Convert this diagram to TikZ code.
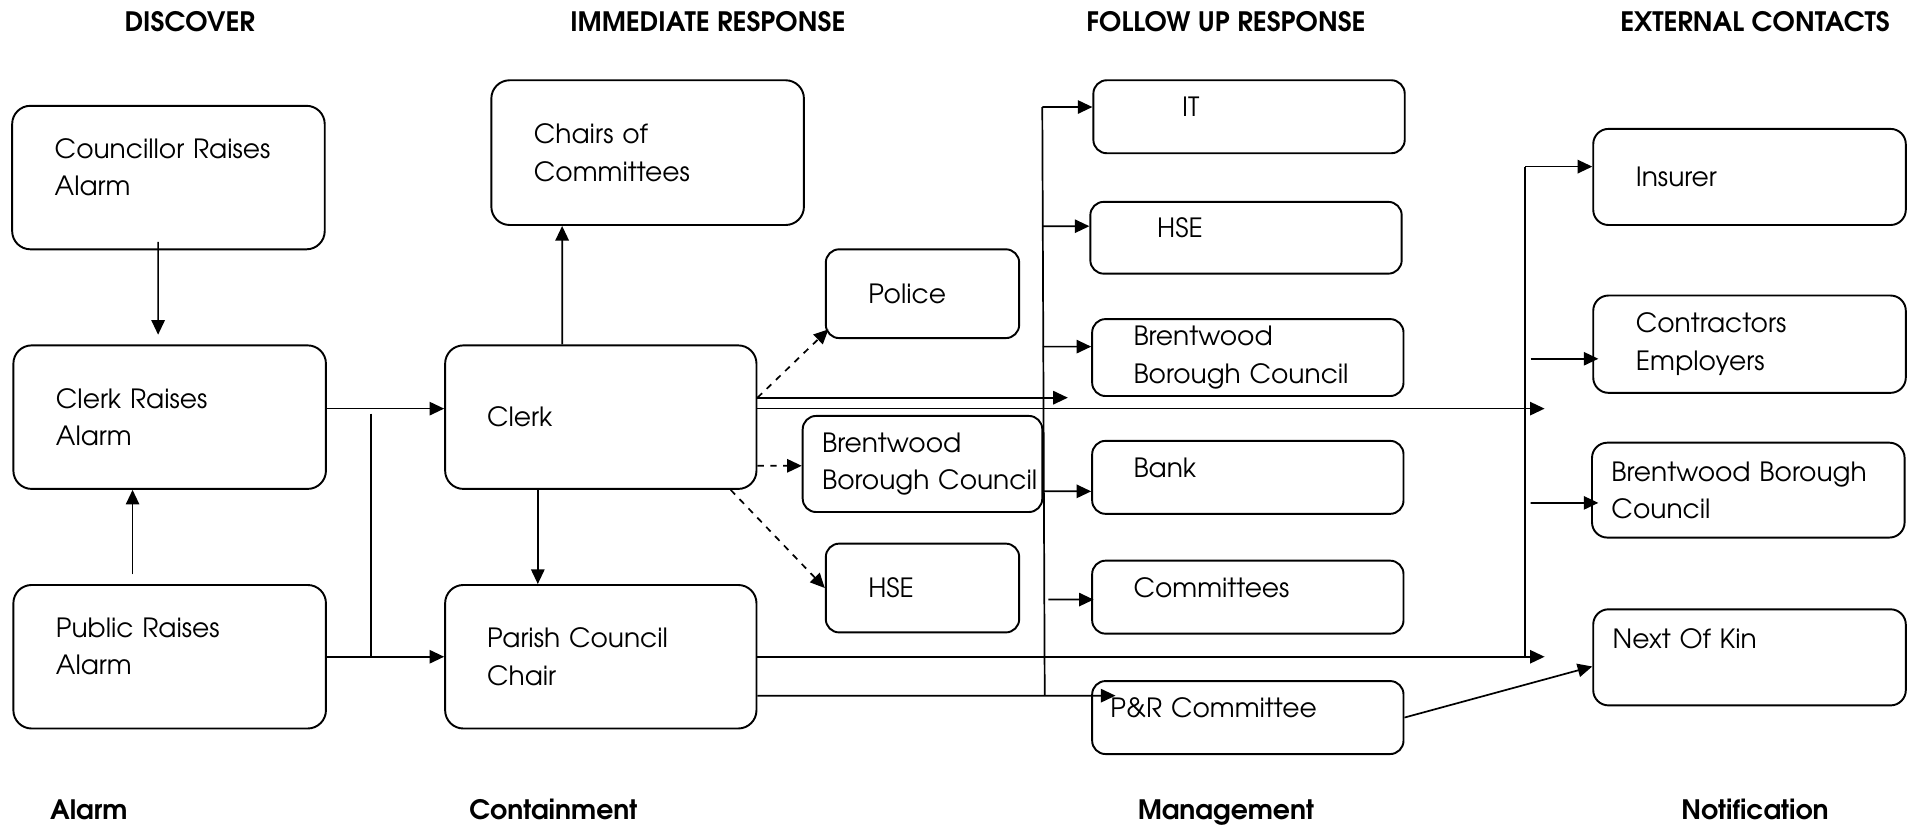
\documentclass[tikz,border=0pt]{standalone}
\usepackage{fontspec}
\setmainfont{TeX Gyre Adventor}
\usepackage{tikz}
\usetikzlibrary{arrows.meta}
\pgfdeclarelayer{nodelayer}
\pgfdeclarelayer{edgelayer}
\pgfsetlayers{edgelayer,nodelayer,main}
\tikzstyle{box}=[draw=black, line width=0.9pt, shape=rectangle, rounded corners=0.3cm, minimum width=5.14cm, minimum height=2.36cm, inner xsep=0.7cm, text width=3.74cm, align=left, font=\fontsize{12.4pt}{17.5pt}\selectfont]
\tikzstyle{small box}=[style=box, rounded corners=0.22cm, minimum width=3.18cm, minimum height=1.46cm, text width=1.78cm]
\tikzstyle{wide box}=[style=box, rounded corners=0.22cm, minimum width=5.12cm, minimum height=1.2cm, inner xsep=0.68cm, text width=3.76cm]
\tikzstyle{ext box}=[style=box, rounded corners=0.25cm, minimum height=1.58cm]
\tikzstyle{raised}=[text depth=0.32cm]
\tikzstyle{raised pair}=[text depth=0.96cm]
\tikzstyle{heading}=[font=\bfseries\fontsize{12.5pt}{14pt}\selectfont, anchor=base]
\tikzstyle{directed edge}=[line width=0.8pt, -{Triangle[length=2.4mm, width=2.2mm]}]
\tikzstyle{dashed edge}=[line width=0.8pt, dashed, -{Triangle[length=2.4mm, width=2.2mm]}]
\tikzstyle{plain edge}=[line width=0.8pt]
\begin{document}
\begin{tikzpicture}
	\useasboundingbox (0, 0) rectangle (31.36, 13.62);
	\begin{pgfonlayer}{nodelayer}
		\node [style=box, raised pair] (0) at (2.77, 10.70) {Councillor Raises\\Alarm};
		\node [style=box] (1) at (2.79, 6.76) {Clerk Raises\\Alarm};
		\node [style=box, raised pair] (2) at (2.79, 2.82) {Public Raises\\Alarm};
		\node [style=box, minimum height=2.38cm] (3) at (10.65, 11.11) {Chairs of\\Committees};
		\node [style=box, minimum width=5.12cm, inner xsep=0.68cm] (4) at (9.88, 6.76) {Clerk};
		\node [style=box, minimum width=5.12cm, inner xsep=0.68cm] (5) at (9.88, 2.82) {Parish Council\\Chair};
		\node [style=small box] (6) at (15.17, 8.79) {Police};
		\node [style=small box, minimum width=3.94cm, minimum height=1.58cm, inner xsep=0.32cm, text width=3.30cm] (7) at (15.17, 5.99) {Brentwood\\\mbox{Borough Council}};
		\node [style=small box] (8) at (15.17, 3.95) {HSE};
		\node [style=wide box, raised] (9) at (20.54, 11.70) {\hspace*{0.78cm}IT};
		\node [style=wide box, raised, minimum width=5.10cm, minimum height=1.18cm] (10) at (20.49, 9.71) {\hspace*{0.42cm}HSE};
		\node [style=wide box] (11) at (20.52, 7.74) {Brentwood\\\mbox{Borough Council}};
		\node [style=wide box, raised] (12) at (20.52, 5.77) {Bank};
		\node [style=wide box, raised] (13) at (20.52, 3.80) {Committees};
		\node [style=wide box, raised, inner xsep=0.30cm, text width=4.52cm] (14) at (20.52, 1.82) {P\&R Committee};
		\node [style=ext box] (15) at (28.77, 10.71) {Insurer};
		\node [style=ext box, minimum height=1.6cm] (16) at (28.77, 7.96) {Contractors\\Employers};
		\node [style=ext box, minimum height=1.56cm, inner xsep=0.32cm, text width=4.50cm] (17) at (28.75, 5.56) {\mbox{Brentwood Borough}\\Council};
		\node [style=ext box, inner xsep=0.32cm, text width=4.50cm] (18) at (28.77, 2.81) {Next Of Kin\\\mbox{}};
		\node [style=heading] (19) at (3.12, 13.10) {DISCOVER};
		\node [style=heading] (20) at (11.64, 13.10) {IMMEDIATE RESPONSE};
		\node [style=heading] (21) at (20.16, 13.10) {FOLLOW UP RESPONSE};
		\node [style=heading] (22) at (28.86, 13.10) {EXTERNAL CONTACTS};
		\node [style=heading] (23) at (1.46, 0.14) {Alarm};
		\node [style=heading] (24) at (9.10, 0.14) {Containment};
		\node [style=heading] (25) at (20.16, 0.14) {Management};
		\node [style=heading] (26) at (28.86, 0.14) {Notification};
		\coordinate (27) at (6.10, 6.82);
		\coordinate (28) at (6.10, 2.82);
		\coordinate (29) at (17.56, 7.08);
		\coordinate (30) at (25.40, 6.90);
		\coordinate (31) at (25.40, 2.82);
		\coordinate (32) at (17.14, 11.86);
		\coordinate (33) at (17.18, 2.18);
		\coordinate (34) at (17.14, 9.90);
		\coordinate (35) at (17.15, 7.92);
		\coordinate (36) at (17.16, 5.54);
		\coordinate (37) at (17.24, 3.76);
		\coordinate (38) at (25.08, 10.88);
		\coordinate (39) at (25.08, 2.80);
		\coordinate (40) at (25.17, 7.72);
		\coordinate (41) at (25.17, 5.35);
	\end{pgfonlayer}
	\begin{pgfonlayer}{edgelayer}
		% discover
		\draw [style=directed edge] ([xshift=-0.17cm, yshift=0.14cm]0.south) to ([xshift=-0.19cm, yshift=0.16cm]1.north);
		\draw [style=directed edge] ([xshift=-0.61cm, yshift=0.16cm]2.north) to ([xshift=-0.61cm]1.south);
		\draw [style=directed edge] ([yshift=0.14cm]1.east) to ([yshift=0.14cm]4.west);
		\draw [style=directed edge] (2.east) to (5.west);
		\draw [style=plain edge] (27) to (28);
		% immediate response
		\draw [style=directed edge] ([xshift=1.94cm]4.north west) to ([xshift=1.18cm]3.south west);
		\draw [style=directed edge] ([xshift=1.54cm]4.south west) to ([xshift=1.54cm]5.north west);
		\draw [style=dashed edge] ([yshift=0.32cm]4.east) to ([xshift=0.06cm, yshift=0.16cm]6.south west);
		\draw [style=dashed edge] ([yshift=-0.8cm]4.east) to ([yshift=-0.03cm]7.west);
		\draw [style=dashed edge] ([xshift=-0.44cm]4.south east) to (8.west);
		\draw [style=directed edge] ([yshift=0.32cm]4.east) to (29);
		\draw [style=directed edge] ([yshift=0.14cm]4.east) to (30);
		\draw [style=directed edge] (5.east) to (31);
		\draw [style=directed edge] ([yshift=-0.64cm]5.east) to ([xshift=0.4cm, yshift=0.36cm]14.west);
		% follow up response
		\draw [style=plain edge] (32) to (33);
		\draw [style=directed edge] (32) to ([yshift=0.16cm]9.west);
		\draw [style=directed edge] (34) to ([yshift=0.19cm]10.west);
		\draw [style=directed edge] (35) to ([yshift=0.18cm]11.west);
		\draw [style=directed edge] (36) to ([yshift=-0.23cm]12.west);
		\draw [style=directed edge] (37) to ([xshift=0.04cm, yshift=-0.04cm]13.west);
		% external contacts
		\draw [style=plain edge] (38) to (39);
		\draw [style=directed edge] (38) to ([yshift=0.17cm]15.west);
		\draw [style=directed edge] (40) to ([xshift=0.1cm, yshift=-0.24cm]16.west);
		\draw [style=directed edge] (41) to ([xshift=0.12cm, yshift=-0.21cm]17.west);
		\draw [style=directed edge] (14.east) to ([yshift=-0.15cm]18.west);
	\end{pgfonlayer}
\end{tikzpicture}
\end{document}
